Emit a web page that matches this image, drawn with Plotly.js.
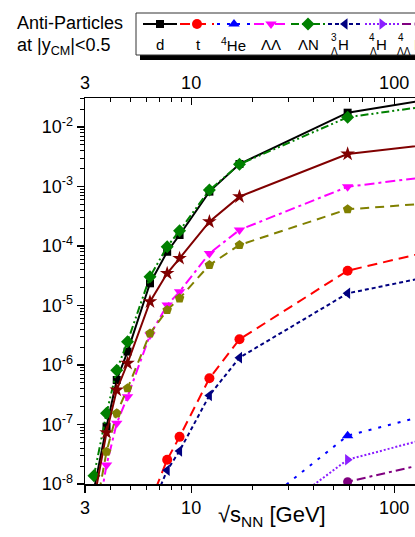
<!DOCTYPE html>
<html><head><meta charset="utf-8">
<script src="https://cdn.plot.ly/plotly-3.0.1.min.js"></script>
<style>html,body{margin:0;padding:0;background:#fff}#chart{width:415px;height:537px}</style>
</head><body><div id="chart"></div>
<script>
// ---- data ----
const energies = [3.32, 3.83, 4.3, 4.86, 6.27, 7.62, 8.77, 12.3, 17.3, 59, 200];
const yield_d    = [8e-9, 9.2e-8, 5.6e-7, 1.68e-6, 2.36e-5, 8.0e-5, 1.53e-4, 8.2e-4, 2.39e-3, 1.74e-2, 3.4e-2];
const yield_t    = [null, null, null, null, 4.8e-9, 2.56e-8, 6.2e-8, 5.97e-7, 2.7e-6, 3.85e-5, 1.02e-4];
const yield_He4  = [null, null, null, null, null, null, null, null, 2.3e-9, 6.5e-8, 1.9e-7];
const yield_LL   = [1.3e-9, 2.08e-8, 1.05e-7, 2.93e-7, 3.19e-6, 1.02e-5, 1.71e-5, 7.5e-5, 1.86e-4, 9.9e-4, 1.66e-3];
const yield_LN   = [1.38e-8, 1.54e-7, 8.2e-7, 2.47e-6, 3.05e-5, 9.75e-5, 1.81e-4, 8.7e-4, 2.37e-3, 1.46e-2, 2.6e-2];
const yield_H3L  = [null, null, null, null, 3.5e-9, 1.7e-8, 3.6e-8, 3.08e-7, 1.33e-6, 1.6e-5, 3.76e-5];
const yield_H4L  = [null, null, null, null, null, null, null, null, 1.15e-9, 2.56e-8, 7.7e-8];
const yield_H4LL = [null, null, null, null, null, null, null, null, 1e-11, 1.09e-8, 2.84e-8];
const yield_star = [5.4e-9, 7.3e-8, 3.8e-7, 1.07e-6, 1.16e-5, 3.47e-5, 6.2e-5, 2.56e-4, 6.75e-4, 3.52e-3, 5.7e-3];
const yield_pent = [2.4e-9, 3.5e-8, 1.54e-7, 4.06e-7, 3.4e-6, 8.4e-6, 1.32e-5, 4.8e-5, 1.04e-4, 4.14e-4, 5.6e-4];

const xTickVals = [3, 10, 100];
const xTickText = ['3', '10', '100'];
const yTickVals = [1e-8, 1e-7, 1e-6, 1e-5, 1e-4, 1e-3, 1e-2];
const yTickText = ['10<sup>-8</sup>','10<sup>-7</sup>','10<sup>-6</sup>','10<sup>-5</sup>','10<sup>-4</sup>','10<sup>-3</sup>','10<sup>-2</sup>'];

// ---- styles ----
const series = [
  {name:'d',    y:yield_d,    color:'#000000', dash:'solid',                symbol:'square',        size:8},
  {name:'t',    y:yield_t,    color:'#ff0000', dash:'10px,6px',             symbol:'circle',        size:10},
  {name:'4He',  y:yield_He4,  color:'#0000ff', dash:'3px,7px',              symbol:'triangle-up',   size:10},
  {name:'LL',   y:yield_LL,   color:'#ff00ff', dash:'10px,4px,3px,4px',     symbol:'triangle-down', size:10},
  {name:'LN',   y:yield_LN,   color:'#008000', dash:'8px,3px,2px,3px,2px,3px', symbol:'diamond',    size:10},
  {name:'H3L',  y:yield_H3L,  color:'#000080', dash:'4px,3px',              symbol:'triangle-left', size:10},
  {name:'H4L',  y:yield_H4L,  color:'#8b1eff', dash:'2px,2px',              symbol:'triangle-right',size:10},
  {name:'H4LL', y:yield_H4LL, color:'#800080', dash:'9px,4px,3px,4px',      symbol:'circle',        size:9},
  {name:'star', y:yield_star, color:'#800000', dash:'solid',                symbol:'star',          size:11},
  {name:'pent', y:yield_pent, color:'#808000', dash:'9px,6px',              symbol:'pentagon',      size:10}
];

const L = 85, PW = 330, PH = 484;
const px = v => (v - L) / PW;
const py = v => (PH - v) / PH;
const pxPerDecade = 203;

const traces = [];
series.forEach(s => {
  traces.push({
    x: energies, y: s.y, type:'scatter', mode:'lines+markers', xaxis:'x', yaxis:'y',
    line:{color:s.color, width:2, dash:s.dash},
    marker:{symbol:s.symbol, size:s.size, color:s.color},
    connectgaps:false, hoverinfo:'skip', showlegend:false
  });
});
// invisible trace for the top axis
traces.push({x:[10], y:[1e-5], xaxis:'x2', yaxis:'y', mode:'markers', marker:{opacity:0}, hoverinfo:'skip', showlegend:false});

// legend samples
series.forEach((s, i) => {
  const cx = 160 + 37 * i;
  traces.push({
    x:[cx - 17, cx + 17], y:[24, 24], xaxis:'x3', yaxis:'y3', mode:'lines',
    line:{color:s.color, width:2, dash:s.dash}, hoverinfo:'skip', showlegend:false
  });
  traces.push({
    x:[cx], y:[24], xaxis:'x3', yaxis:'y3', mode:'markers',
    marker:{symbol:s.symbol, size:s.size, color:s.color}, hoverinfo:'skip', showlegend:false
  });
});

const minorX = [];
[1, 10].forEach(d => { for (let k = 2; k <= 9; k++) { if (k*d > 3) minorX.push(k*d); } });
const minorY = [];
for (let e = -8; e <= -2; e++) for (let k = 2; k <= 9; k++) minorY.push(k * Math.pow(10, e));

const font = 'Liberation Sans, Arial, sans-serif';
const xr = [Math.log10(3), Math.log10(3) + PW / pxPerDecade];

const ann = [];
function txt(text, x, y, size, xanchor) {
  ann.push({text:text, xref:'paper', yref:'paper', x:px(x), y:py(y), showarrow:false,
    xanchor:xanchor||'center', yanchor:'middle', font:{size:size, color:'#000', family:font}});
}
txt('Anti-Particles', 15, 23, 18, 'left');
txt('at |y<sub>CM</sub>|&lt;0.5', 15, 46, 18, 'left');
txt('√s<sub>NN</sub> [GeV]', 272, 516, 22);
// legend labels
txt('d', 160, 45, 15);
txt('t', 198, 45, 15);
txt('<sup>4</sup>He', 233, 45, 15);
txt('ΛΛ', 271, 45, 15);
txt('ΛN', 308, 45, 15);
txt('H', 343, 45, 15); txt('3', 334, 37, 10); txt('Λ', 334, 52, 10);
txt('H', 381, 45, 15); txt('4', 372, 37, 10); txt('Λ', 373, 52, 10);
txt('H', 419, 45, 15); txt('4', 401, 37, 10); txt('ΛΛ', 404, 52, 10);

const layout = {
  width:415, height:537,
  margin:{l:L, r:0, t:0, b:53},
  paper_bgcolor:'#fff', plot_bgcolor:'rgba(0,0,0,0)',
  font:{family:font, color:'#000'},
  showlegend:false,
  xaxis:{type:'log', range:xr, domain:[0,1], anchor:'y', showline:true, linewidth:1.5, linecolor:'#000',
    ticks:'outside', ticklen:7, tickwidth:1.2, tickcolor:'#000', tickmode:'array', tickvals:xTickVals, ticktext:xTickText,
    tickfont:{size:18}, showgrid:false, zeroline:false,
    minor:{tickmode:'array', tickvals:minorX, ticks:'outside', ticklen:4, tickwidth:1, tickcolor:'#000', showgrid:false}},
  xaxis2:{type:'log', range:xr, overlaying:'x', side:'top', anchor:'y', showline:true, linewidth:1.5, linecolor:'#000',
    ticks:'inside', ticklen:7, tickwidth:1.2, tickcolor:'#000', tickmode:'array', tickvals:xTickVals, ticktext:xTickText,
    tickfont:{size:18}, showgrid:false, zeroline:false,
    minor:{tickmode:'array', tickvals:minorX, ticks:'inside', ticklen:4, tickwidth:1, tickcolor:'#000', showgrid:false}},
  yaxis:{type:'log', range:[-8, -2 + (127-98)/59.5], domain:[0, (PH-98)/PH], anchor:'x', showline:true, linewidth:1.5, linecolor:'#000',
    ticks:'outside', ticklen:7, tickwidth:1.2, tickcolor:'#000', tickmode:'array', tickvals:yTickVals, ticktext:yTickText,
    tickfont:{size:18}, showgrid:false, zeroline:false,
    minor:{tickmode:'array', tickvals:minorY, ticks:'outside', ticklen:4, tickwidth:1, tickcolor:'#000', showgrid:false}},
  xaxis3:{domain:[0,1], range:[L, L+PW], anchor:'y3', visible:false, fixedrange:true},
  yaxis3:{domain:[py(60), 1], range:[60, 0], anchor:'x3', visible:false, fixedrange:true},
  shapes:[
    {type:'rect', xref:'paper', yref:'paper', x0:px(140), x1:px(450), y0:py(17), y1:py(60), fillcolor:'#000', line:{width:0}, layer:'below'},
    {type:'rect', xref:'paper', yref:'paper', x0:px(136), x1:px(446), y0:py(13), y1:py(55), fillcolor:'#fff', line:{color:'#333', width:1}, layer:'below'}
  ],
  annotations:ann
};

Plotly.newPlot('chart', traces, layout, {staticPlot:true, displayModeBar:false});
</script></body></html>
